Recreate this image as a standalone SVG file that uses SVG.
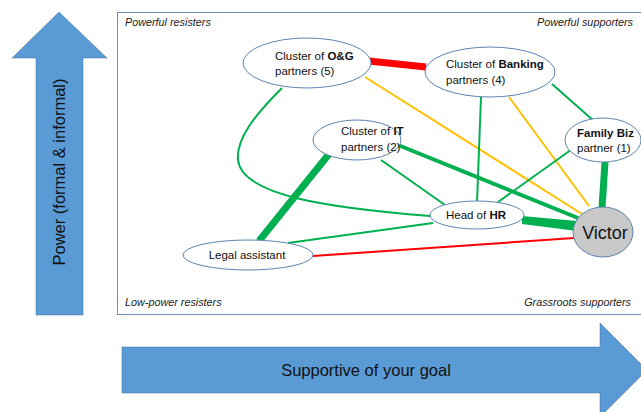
<svg xmlns="http://www.w3.org/2000/svg" width="641" height="412" viewBox="0 0 641 412">
  <style>
    .axis { fill: #5b9bd5; stroke: #41719c; stroke-width: 0.5; }
    .axis-label { font-family: "Liberation Sans", Arial, sans-serif; font-size: 16.5px; fill: #111; }
    .frame { fill: #ffffff; stroke: #6f8fb3; stroke-width: 1; }
    .corner { font-family: "Liberation Sans", Arial, sans-serif; font-size: 10.8px; font-style: italic; fill: #222; }
    .node { fill: #ffffff; stroke: #5b84b1; stroke-width: 1; }
    .me { fill: #c8c8c8; stroke: #5b84b1; stroke-width: 1; }
    .lbl { font-family: "Liberation Sans", Arial, sans-serif; font-size: 11.5px; fill: #111; }
    .big { font-family: "Liberation Sans", Arial, sans-serif; font-size: 18px; fill: #111; }
    .b { font-weight: bold; }
    .g { stroke: #00b050; fill: none; stroke-linecap: butt; }
    .o { stroke: #ffc000; fill: none; stroke-width: 2; }
    .r { stroke: #ff0000; fill: none; }
  </style>

  <!-- vertical axis arrow: power -->
  <g id="axis-power">
    <polygon class="axis" points="59,12 107,58 83,58 83,315 36,315 36,58 12,58"/>
    <text class="axis-label" transform="translate(65,172) rotate(-90)" text-anchor="middle">Power (formal &amp; informal)</text>
  </g>

  <!-- horizontal axis arrow: support -->
  <g id="axis-support">
    <polygon class="axis" points="122,347 600,347 600,323 647,370 600,417 600,393 122,393"/>
    <text class="axis-label" x="366" y="376" text-anchor="middle">Supportive of your goal</text>
  </g>

  <!-- quadrant frame -->
  <g id="frame">
    <rect class="frame" x="117.5" y="12.5" width="530" height="302"/>
    <text class="corner" x="125" y="26">Powerful resisters</text>
    <text class="corner" x="633" y="26" text-anchor="end">Powerful supporters</text>
    <text class="corner" x="125" y="306">Low-power resisters</text>
    <text class="corner" x="631" y="306" text-anchor="end">Grassroots supporters</text>
  </g>

  <!-- relationship lines -->
  <g id="connectors">
    <line class="r" x1="369" y1="61" x2="426" y2="67" stroke-width="7"/>
    <line class="o" x1="365" y1="77" x2="582" y2="214"/>
    <line class="o" x1="509" y1="97" x2="589" y2="206"/>
    <line class="g" x1="481" y1="97" x2="477" y2="202" stroke-width="2"/>
    <line class="g" x1="552" y1="84" x2="595" y2="122" stroke-width="2"/>
    <line class="g" x1="575" y1="147" x2="498" y2="202" stroke-width="2"/>
    <line class="g" x1="605" y1="162" x2="602" y2="208" stroke-width="7"/>
    <line class="g" x1="398" y1="145" x2="578" y2="218" stroke-width="4"/>
    <line class="g" x1="381" y1="160" x2="445" y2="205" stroke-width="2"/>
    <line class="g" x1="329" y1="154" x2="259" y2="241" stroke-width="7"/>
    <path class="g" d="M282,88 C256,114 236,138 238,160 C242,196 330,208 430,216" stroke-width="2"/>
    <line class="g" x1="288" y1="243" x2="433" y2="223" stroke-width="2"/>
    <line class="r" x1="313" y1="256" x2="574" y2="238" stroke-width="2"/>
    <polygon fill="#00b050" points="522,216 577,221 577,231 522,224"/>
  </g>

  <!-- nodes -->
  <g id="node-og">
    <ellipse class="node" cx="307" cy="63" rx="64" ry="25"/>
    <text class="lbl" x="275" y="60">Cluster of <tspan class="b">O&amp;G</tspan></text>
    <text class="lbl" x="275" y="75">partners (5)</text>
  </g>
  <g id="node-banking">
    <ellipse class="node" cx="490" cy="72" rx="65" ry="25"/>
    <text class="lbl" x="446" y="68">Cluster of <tspan class="b">Banking</tspan></text>
    <text class="lbl" x="446" y="84">partners (4)</text>
  </g>
  <g id="node-it">
    <ellipse class="node" cx="357" cy="140" rx="44" ry="20"/>
    <text class="lbl" x="341" y="135">Cluster of <tspan class="b">IT</tspan></text>
    <text class="lbl" x="341" y="151">partners (2)</text>
  </g>
  <g id="node-family">
    <ellipse class="node" cx="603" cy="140" rx="38" ry="22"/>
    <text class="lbl b" x="577" y="137">Family Biz</text>
    <text class="lbl" x="577" y="152">partner (1)</text>
  </g>
  <g id="node-hr">
    <ellipse class="node" cx="477" cy="215" rx="47" ry="14"/>
    <text class="lbl" x="476" y="219" text-anchor="middle">Head of <tspan class="b">HR</tspan></text>
  </g>
  <g id="node-legal">
    <ellipse class="node" cx="248" cy="255" rx="65" ry="15"/>
    <text class="lbl" x="247" y="259" text-anchor="middle">Legal assistant</text>
  </g>
  <g id="node-victor">
    <ellipse class="me" cx="603" cy="232" rx="30" ry="25"/>
    <text class="big" x="605" y="239" text-anchor="middle">Victor</text>
  </g>
</svg>
